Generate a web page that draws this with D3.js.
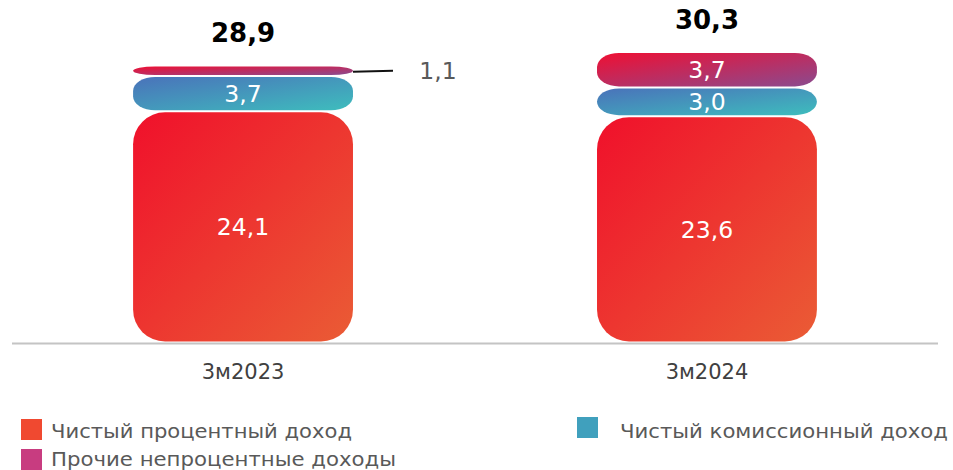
<!DOCTYPE html>
<html><head><meta charset="utf-8">
<script src="https://cdn.jsdelivr.net/npm/d3@7"></script>
<style>html,body{margin:0;padding:0;background:#fff;}svg{display:block;font-family:"DejaVu Sans",Verdana,sans-serif;}</style>
</head><body>
<svg id="c" width="953" height="470"></svg>
<script>
const categories = ["3м2023", "3м2024"];
const seriesNames = ["Чистый процентный доход", "Чистый комиссионный доход", "Прочие непроцентные доходы"];
const interestIncome = [24.1, 23.6];
const commissionIncome = [3.7, 3.0];
const otherIncome = [1.1, 3.7];
const totals = [28.9, 30.3];

const svg = d3.select("#c");
const x = d3.scaleBand().domain(categories).range([12, 938]).paddingInner(0.526).paddingOuter(0.261);
const y = d3.scaleLinear().domain([0, 30.3]).range([342, 52]);
const fmt = v => v.toFixed(1).replace(".", ",");

const defs = svg.append("defs");
const grads = [
  {id: "gRed", c0: "#f0102b", c1: "#ea5c35"},
  {id: "gBlue", c0: "#4a72ba", c1: "#3ebdbd"},
  {id: "gPink", c0: "#ef0f33", c1: "#8a4b8f"}
];
grads.forEach(g => {
  const lg = defs.append("linearGradient").attr("id", g.id)
    .attr("x1", 0).attr("y1", 0).attr("x2", 1).attr("y2", 1);
  lg.append("stop").attr("offset", "0%").attr("stop-color", g.c0);
  lg.append("stop").attr("offset", "100%").attr("stop-color", g.c1);
});

const series = [
  {name: seriesNames[0], vals: interestIncome, fill: "url(#gRed)", legend: "#f04930", rx: 32, ry: 32},
  {name: seriesNames[1], vals: commissionIncome, fill: "url(#gBlue)", legend: "#40a0bd", rx: 22, ry: 14},
  {name: seriesNames[2], vals: otherIncome, fill: "url(#gPink)", legend: "#c83c80", rx: 22, ry: 14}
];

// axis line
svg.append("line").attr("x1", 12).attr("x2", 938).attr("y1", 343.5).attr("y2", 343.5)
  .attr("stroke", "#c4c4c4").attr("stroke-width", 2);

categories.forEach((cat, i) => {
  let base = 0;
  const bx = x(cat), bw = x.bandwidth();
  series.forEach((s, si) => {
    const v = s.vals[i];
    const y0 = y(base), y1 = y(base + v);
    const top = y1 + 1, h = Math.max(1, (y0 - y1) - (si === 0 ? 1.5 : 2));
    const ry = Math.min(s.ry, h / 2);
    svg.append("rect").attr("x", bx).attr("y", top).attr("width", bw).attr("height", h)
      .attr("rx", s.rx).attr("ry", ry).attr("fill", s.fill);
    const cy = (y0 + y1) / 2;
    if (y0 - y1 >= 20) {
      svg.append("text").attr("x", bx + bw / 2).attr("y", cy).attr("dy", "0.36em")
        .attr("text-anchor", "middle").attr("fill", "#fff").attr("font-size", 23.5).text(fmt(v));
    } else {
      svg.append("line").attr("x1", bx + bw).attr("x2", bx + bw + 40)
        .attr("y1", cy + 1).attr("y2", cy).attr("stroke", "#111").attr("stroke-width", 2);
      svg.append("text").attr("x", bx + bw + 85).attr("y", cy).attr("dy", "0.36em")
        .attr("text-anchor", "middle").attr("fill", "#595959").attr("font-size", 23.5).text(fmt(v));
    }
    base += v;
  });
  svg.append("text").attr("x", bx + bw / 2).attr("y", y(totals[i]) - 23)
    .attr("text-anchor", "middle").attr("font-weight", "bold").attr("font-size", 26)
    .attr("fill", "#000").text(fmt(totals[i]));
  svg.append("text").attr("x", bx + bw / 2).attr("y", 379)
    .attr("text-anchor", "middle").attr("fill", "#404040").attr("font-size", 21).text(cat);
});

// legend
const legendPos = [
  {sx: 21, sy: 419, tx: 51, ty: 438, len: 301},
  {sx: 577, sy: 417, tx: 620, ty: 438, len: 328},
  {sx: 21, sy: 449, tx: 51, ty: 466, len: 345}
];
series.forEach((s, i) => {
  const p = legendPos[i];
  svg.append("rect").attr("x", p.sx).attr("y", p.sy).attr("width", 21).attr("height", 21).attr("fill", s.legend);
  svg.append("text").attr("x", p.tx).attr("y", p.ty).attr("fill", "#595959").attr("font-size", 20)
    .attr("textLength", p.len).attr("lengthAdjust", "spacingAndGlyphs").text(s.name);
});
</script>
</body></html>
